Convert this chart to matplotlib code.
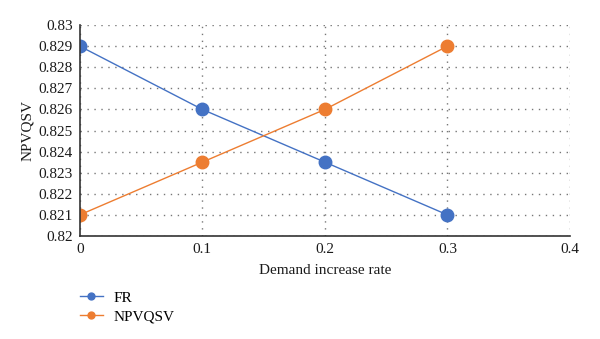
import matplotlib
matplotlib.use("Agg")
import matplotlib.pyplot as plt

x = [0, 0.1, 0.2, 0.3]
fr = [0.829, 0.826, 0.8235, 0.821]
npv = [0.821, 0.8235, 0.826, 0.829]
yticks = [0.82, 0.821, 0.822, 0.823, 0.824, 0.825, 0.826, 0.827, 0.828, 0.829, 0.83]
ylabels = ["0.82", "0.821", "0.822", "0.823", "0.824", "0.825", "0.826", "0.827", "0.828", "0.829", "0.83"]
xticks = [0, 0.1, 0.2, 0.3, 0.4]
xlabels = ["0", "0.1", "0.2", "0.3", "0.4"]

plt.rcParams['font.family'] = ['Liberation Serif', 'DejaVu Serif']

fig = plt.figure(figsize=(6, 3.39), dpi=100)
ax = fig.add_axes([0.133, 0.304, 0.817, 0.622])

blue = "#4472C4"
orange = "#ED7D31"
l1, = ax.plot(x, fr, color=blue, lw=1.0, marker='o', ms=9, label="FR")
l2, = ax.plot(x, npv, color=orange, lw=1.0, marker='o', ms=9, label="NPVQSV")

ax.set_xlim(0, 0.4)
ax.set_ylim(0.82, 0.83)
ax.set_xticks(xticks)
ax.set_xticklabels(xlabels)
ax.set_yticks(yticks)
ax.set_yticklabels(ylabels)
ax.tick_params(length=0, labelsize=11, colors="#1a1a1a", pad=5)
ax.grid(True, linestyle=(0, (1, 4)), color="#777777", lw=1.0)
ax.set_axisbelow(True)
for s in ["top", "right"]:
    ax.spines[s].set_visible(False)
for s in ["left", "bottom"]:
    ax.spines[s].set_color("#333333")
    ax.spines[s].set_linewidth(1.2)
ax.set_xlabel("Demand increase rate", fontsize=11, labelpad=6, color="#1a1a1a")
ax.set_ylabel("NPVQSV", fontsize=11, labelpad=3, color="#1a1a1a")

fig.legend(handles=[l1, l2], loc="upper left", bbox_to_anchor=(0.110, 0.182),
           frameon=False, fontsize=11, markerscale=0.55, handlelength=1.5,
           labelspacing=0.3, handletextpad=0.7)

fig.savefig("out.png", dpi=100)
